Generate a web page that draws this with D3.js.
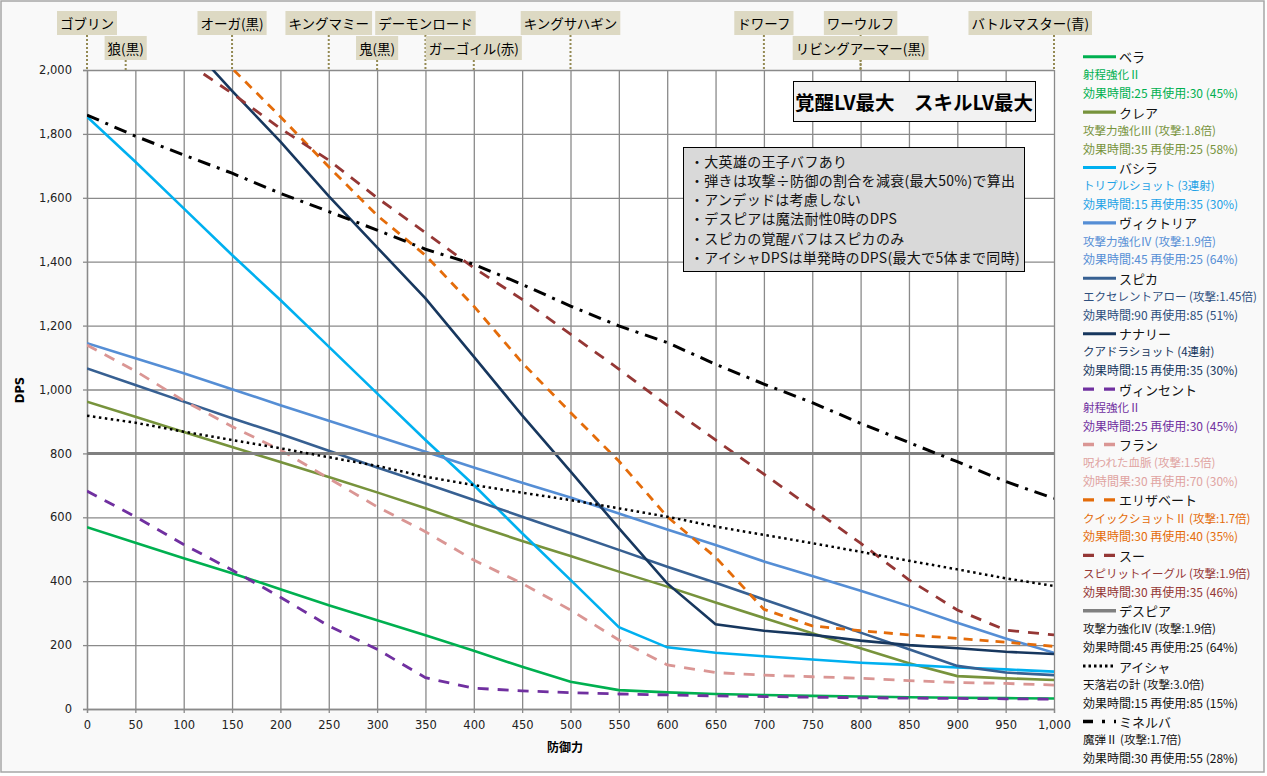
<!DOCTYPE html>
<html>
<head>
<meta charset="utf-8">
<script src="https://cdn.jsdelivr.net/npm/d3@7"></script>
<style>
body{margin:0;background:#ffffff;}
text{font-family:"Noto Sans CJK JP","DejaVu Sans",sans-serif;}
.axis text{font-family:"DejaVu Sans",sans-serif;font-size:11.5px;fill:#222;}
.axis path,.axis line{stroke:#8a8a8a;stroke-width:1.3;}
.grid line{stroke:#8a8a8a;stroke-width:1.3;}
.grid path{display:none;}
</style>
</head>
<body>
<script>
//Defense values on the x axis (one point per 50)
var defense = [0,50,100,150,200,250,300,350,400,450,500,550,600,650,700,750,800,850,900,950,1000];
var xTicks = [0,50,100,150,200,250,300,350,400,450,500,550,600,650,700,750,800,850,900,950,1000];
var yTicks = [0,200,400,600,800,1000,1200,1400,1600,1800,2000];

//DPS per unit
var bera      = [569,520,472,425,375,325,278,231,182,132,85,59,52,47,44,41,39,37,35,34,33];
var kurea     = [962,915,867,820,773,726,678,628,576,526,479,430,383,333,285,237,190,143,103,96,91];
var bashira   = [1854,1713,1567,1421,1280,1134,988,842,701,550,404,256,193,176,165,155,145,138,130,124,117];
var victoria  = [1145,1098,1051,1001,951,902,854,805,756,708,662,612,562,513,462,416,370,322,270,221,176];
var spica     = [1066,1014,962,910,861,808,756,706,654,602,550,498,445,395,343,291,239,187,135,114,106];
var nanali    = [2430,2265,2100,1935,1776,1605,1445,1285,1103,919,744,566,393,265,245,232,214,200,190,179,172];
var vincent   = [682,602,515,435,350,260,187,98,65,57,51,47,44,41,39,37,35,34,33,32,31];
var fran      = [1139,1058,965,884,811,722,633,555,466,393,310,216,138,114,106,101,96,89,83,80,75];
var elizabeth = [2460,2310,2160,2005,1854,1697,1545,1420,1261,1084,928,776,602,475,312,260,245,232,221,209,196];
var sue       = [2230,2130,2030,1927,1817,1718,1600,1491,1381,1282,1173,1064,950,842,735,628,519,404,310,247,232];
var despia    = [800,800,800,800,800,800,800,800,800,800,800,800,800,800,800,800,800,800,800,800,800];
var aisha     = [918,896,868,842,816,788,761,727,701,677,654,628,602,571,545,519,492,464,437,409,385];
var minerva   = [1859,1793,1734,1677,1614,1557,1499,1439,1392,1329,1261,1199,1147,1079,1017,959,894,834,774,712,659];

var unitNames  = ["ベラ","クレア","バシラ","ヴィクトリア","スピカ","ナナリー","ヴィンセント","フラン","エリザベート","スー","デスピア","アイシャ","ミネルバ"];
var unitSkills = ["射程強化Ⅱ","攻撃力強化Ⅲ (攻撃:1.8倍)","トリプルショット (3連射)","攻撃力強化Ⅳ (攻撃:1.9倍)","エクセレントアロー (攻撃:1.45倍)","クアドラショット (4連射)","射程強化Ⅱ","呪われた血脈 (攻撃:1.5倍)","クイックショットⅡ (攻撃:1.7倍)","スピリットイーグル (攻撃:1.9倍)","攻撃力強化Ⅳ (攻撃:1.9倍)","天落岩の計 (攻撃:3.0倍)","魔弾Ⅱ (攻撃:1.7倍)"];
var unitStats  = ["効果時間:25 再使用:30 (45%)","効果時間:35 再使用:25 (58%)","効果時間:15 再使用:35 (30%)","効果時間:45 再使用:25 (64%)","効果時間:90 再使用:85 (51%)","効果時間:15 再使用:35 (30%)","効果時間:25 再使用:30 (45%)","効時間果:30 再使用:70 (30%)","効果時間:30 再使用:40 (35%)","効果時間:30 再使用:35 (46%)","効果時間:45 再使用:25 (64%)","効果時間:15 再使用:85 (15%)","効果時間:30 再使用:55 (28%)"];
var unitValues = [bera,kurea,bashira,victoria,spica,nanali,vincent,fran,elizabeth,sue,despia,aisha,minerva];

//Enemy markers along the top
var enemyNames   = ["ゴブリン","狼(黒)","オーガ(黒)","キングマミー","鬼(黒)","デーモンロード","ガーゴイル(赤)","キングサハギン","ドワーフ","ワーウルフ","リビングアーマー(黒)","バトルマスター(青)"];
var enemyDefense = [0,40,150,250,300,350,400,500,700,800,800,1000];
var enemyRow     = [0,1,0,0,1,0,1,0,0,0,1,0];

var notes = ["・大英雄の王子バフあり","・弾きは攻撃÷防御の割合を減衰(最大50%)で算出","・アンデッドは考慮しない","・デスピアは魔法耐性0時のDPS","・スピカの覚醒バフはスピカのみ","・アイシャDPSは単発時のDPS(最大で5体まで同時)"];

//Line styles, same order as unitNames
var styles = [
    {color:"#00B050", text:"#00B050", dash:null,  width:2.6},
    {color:"#77933C", text:"#77933C", dash:null,  width:2.6},
    {color:"#00B0F0", text:"#1FA2E6", dash:null,  width:2.6},
    {color:"#558ED5", text:"#558ED5", dash:null,  width:2.6},
    {color:"#376092", text:"#2E4F7E", dash:null,  width:2.6},
    {color:"#17375E", text:"#17375E", dash:null,  width:2.6},
    {color:"#7030A0", text:"#7030A0", dash:"11,9", width:2.8},
    {color:"#DA9694", text:"#E0A3A1", dash:"11,9", width:2.8},
    {color:"#E46C0A", text:"#E46C0A", dash:"9,7", width:2.8},
    {color:"#953735", text:"#953735", dash:"11,9", width:2.8},
    {color:"#808080", text:"#111111", dash:null,  width:3},
    {color:"#000000", text:"#111111", dash:"2.5,3.5", width:2.5},
    {color:"#000000", text:"#111111", dash:"13,7,3,7", width:3}
];

var W = 1267, H = 776;
var plotL = 87, plotR = 1054, plotT = 70, plotB = 709;

var svg = d3.select("body").append("svg")
    .attr("width",W).attr("height",H)
    .attr("xmlns","http://www.w3.org/2000/svg");

//background and frame
svg.append("rect").attr("x",1).attr("y",1).attr("width",1263).attr("height",771)
    .attr("fill","#F9F9F9").attr("stroke","#A6A6A6").attr("stroke-width",1.5);
svg.append("rect").attr("x",plotL).attr("y",plotT).attr("width",plotR-plotL).attr("height",plotB-plotT)
    .attr("fill","#ffffff");

var x = d3.scaleLinear().domain([0,1000]).range([plotL,plotR]);
var y = d3.scaleLinear().domain([0,2000]).range([plotB,plotT]);

//grid
svg.append("g").attr("class","grid").attr("transform","translate(0,"+plotB+")")
    .call(d3.axisBottom(x).tickValues(xTicks).tickSize(-(plotB-plotT)).tickFormat(""));
svg.append("g").attr("class","grid").attr("transform","translate("+plotL+",0)")
    .call(d3.axisLeft(y).tickValues(yTicks).tickSize(-(plotR-plotL)).tickFormat(""));

//axes
svg.append("g").attr("class","axis").attr("transform","translate(0,"+plotB+")")
    .call(d3.axisBottom(x).tickValues(xTicks).tickSize(4).tickPadding(8).tickFormat(d3.format(",")));
svg.append("g").attr("class","axis").attr("transform","translate("+plotL+",0)")
    .call(d3.axisLeft(y).tickValues(yTicks).tickSize(4).tickPadding(11).tickFormat(d3.format(",")));

svg.append("text").text("DPS")
    .attr("transform","translate(24,390) rotate(-90)").attr("text-anchor","middle")
    .style("font-family","DejaVu Sans").style("font-weight","bold").style("font-size","11.5px");
svg.append("text").text("防御力")
    .attr("x",565).attr("y",752).attr("text-anchor","middle")
    .style("font-weight","bold").style("font-size","12px");

//lines
svg.append("clipPath").attr("id","plotClip").append("rect")
    .attr("x",plotL).attr("y",plotT).attr("width",plotR-plotL).attr("height",plotB-plotT);

var line = d3.line().x(function(d,i){return x(defense[i]);}).y(function(d){return y(d);});

unitValues.forEach(function(vals,i){
    svg.append("path").datum(vals)
        .attr("d",line)
        .attr("fill","none")
        .attr("stroke",styles[i].color)
        .attr("stroke-width",styles[i].width)
        .attr("stroke-dasharray",styles[i].dash)
        .attr("clip-path","url(#plotClip)");
});

//enemy labels with dotted leaders
enemyNames.forEach(function(name,i){
    var g = svg.append("g");
    var cx = x(enemyDefense[i]);
    var boxTop = enemyRow[i]==0 ? 11 : 36;
    var t = g.append("text").text(name).style("font-size","13.5px");
    var w = t.node().getComputedTextLength()+6;
    var bx = cx - w/2;
    if(bx + w > 1092) bx = 1092 - w;
    g.insert("line","text").attr("x1",cx).attr("x2",cx).attr("y1",boxTop+24).attr("y2",plotT)
        .attr("stroke","#948A54").attr("stroke-width",2).attr("stroke-dasharray","2,2");
    g.insert("rect","text").attr("x",bx).attr("y",boxTop).attr("width",w).attr("height",24)
        .attr("fill","#DDD9C3");
    t.attr("x",bx+w/2).attr("y",boxTop+12).attr("text-anchor","middle").attr("dominant-baseline","central");
});

//title box
svg.append("rect").attr("x",793.5).attr("y",81.5).attr("width",242).attr("height",40)
    .attr("fill","#F2F2F2").attr("stroke","#000").attr("stroke-width",1);
svg.append("text").text("覚醒LV最大　スキルLV最大")
    .attr("x",914).attr("y",101.5).attr("text-anchor","middle").attr("dominant-baseline","central")
    .style("font-weight","bold").style("font-size","19.5px");

//notes box
svg.append("rect").attr("x",683.5).attr("y",147.5).attr("width",341).attr("height",124)
    .attr("fill","#D9D9D9").attr("stroke","#000").attr("stroke-width",1);
svg.selectAll(".note").data(notes).enter().append("text").attr("class","note")
    .text(function(d){return d;})
    .attr("x",690).attr("y",function(d,i){return 160.7+i*19.2;})
    .attr("dominant-baseline","central")
    .style("font-size","14px").style("letter-spacing","0.3px").style("fill","#111");

//legend
unitNames.forEach(function(name,i){
    var base = 56.7 + i*55.4;
    var s = styles[i];
    svg.append("line").attr("x1",1083).attr("x2",1116).attr("y1",base).attr("y2",base)
        .attr("stroke",s.color).attr("stroke-width",s.width+0.5)
        .attr("stroke-dasharray", i==6||i==7||i==8||i==9 ? "11,10" : (i==11 ? "2.5,3" : (i==12 ? "10,9,3,9" : null)));
    svg.append("text").text(name).attr("x",1119).attr("y",base)
        .attr("dominant-baseline","central").style("font-size","13px").style("fill","#111");
    svg.append("text").text(unitSkills[i]).attr("x",1083).attr("y",base+17.6)
        .attr("dominant-baseline","central").style("font-size","11.5px").style("fill",s.text);
    svg.append("text").text(unitStats[i]).attr("x",1083).attr("y",base+36)
        .attr("dominant-baseline","central").style("font-size","12px").style("fill",s.text);
});
</script>
</body>
</html>
